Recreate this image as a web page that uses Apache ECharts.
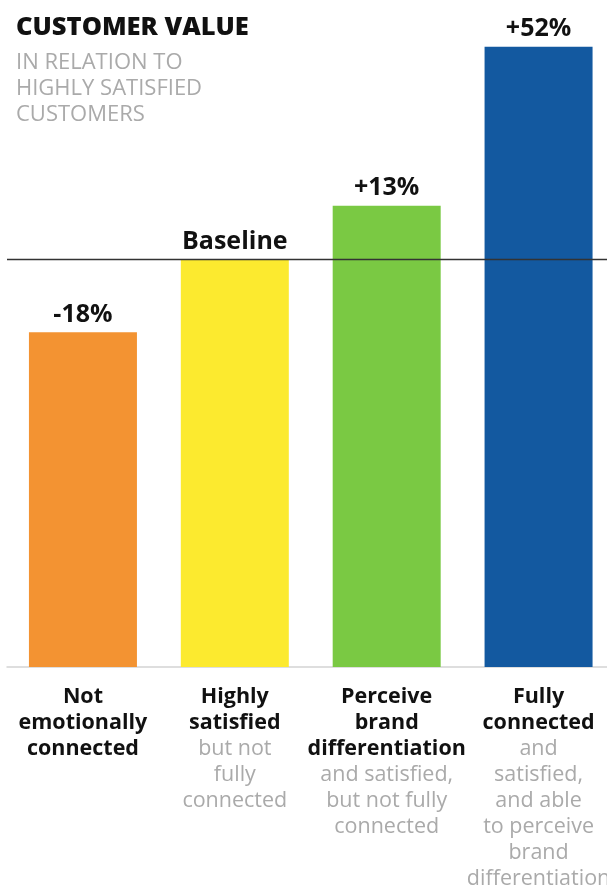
<!DOCTYPE html>
<html>
<head>
<meta charset="utf-8">
<script src="https://cdn.jsdelivr.net/npm/echarts@6/dist/echarts.min.js"></script>
<style>
html,body{margin:0;padding:0;background:#fff;}
#c{width:607px;height:892px;}
</style>
</head>
<body>
<div id="c"></div>
<script>
// Data
const categories = ['Not emotionally connected', 'Highly satisfied', 'Perceive brand differentiation', 'Fully connected'];
const changePct = [-18, 0, 13, 52];   // relative to highly satisfied customers
const valueLabels = ['-18%', 'Baseline', '+13%', '+52%'];
const boldLines = [
  ['Not', 'emotionally', 'connected'],
  ['Highly', 'satisfied'],
  ['Perceive', 'brand', 'differentiation'],
  ['Fully', 'connected']
];
const grayLines = [
  [],
  ['but not', 'fully', 'connected'],
  ['and satisfied,', 'but not fully', 'connected'],
  ['and', 'satisfied,', 'and able', 'to perceive', 'brand', 'differentiation']
];
const barColors = ['#F39332', '#FCEA2F', '#7AC943', '#1359A0'];
const baselineValue = 100;

const FONT = '"Open Sans", Roboto, sans-serif';
const chart = echarts.init(document.getElementById('c'), null, {renderer: 'canvas'});

const seriesData = changePct.map((p, i) => ({
  value: baselineValue + p,
  itemStyle: {color: barColors[i]},
  label: {formatter: valueLabels[i]}
}));

chart.setOption({
  animation: false,
  title: {
    text: 'CUSTOMER VALUE',
    subtext: 'IN RELATION TO\nHIGHLY SATISFIED\nCUSTOMERS',
    left: 16, top: 15, padding: 0,
    itemGap: 9,
    textStyle: {fontFamily: FONT, fontWeight: 800, fontSize: 25.5, color: '#111'},
    subtextStyle: {fontFamily: FONT, fontSize: 22, color: '#aaa', lineHeight: 26}
  },
  grid: {left: 7, width: 607.5, top: 14, bottom: 225, containLabel: false, outerBoundsMode: 'none'},
  xAxis: {
    type: 'category',
    data: categories,
    axisLine: {show: true, lineStyle: {color: '#d4d4d4', width: 1.5}},
    axisTick: {show: false},
    axisLabel: {
      interval: 0,
      margin: 17,
      formatter: (v, i) => {
        const b = boldLines[i].map(s => '{b|' + s + '}');
        const g = grayLines[i].map(s => '{g|' + s + '}');
        return b.concat(g).join('\n');
      },
      rich: {
        b: {fontFamily: FONT, fontWeight: 'bold', fontSize: 21.5, color: '#111', lineHeight: 26, align: 'center'},
        g: {fontFamily: FONT, fontSize: 21.5, color: '#aaa', lineHeight: 26, align: 'center'}
      }
    }
  },
  yAxis: {
    type: 'value', min: 0, max: 160,
    show: false,
    splitLine: {show: false}
  },
  series: [{
    type: 'bar',
    data: seriesData,
    barWidth: 108,
    label: {
      show: true, position: 'top', distance: 5,
      fontFamily: FONT, fontWeight: 'bold', fontSize: 25, color: '#111'
    },
    markLine: {
      silent: true,
      symbol: ['none', 'none'],
      label: {show: false},
      lineStyle: {color: '#333', width: 1.3, type: 'solid'},
      data: [{yAxis: baselineValue}]
    }
  }]
});
</script>
</body>
</html>
